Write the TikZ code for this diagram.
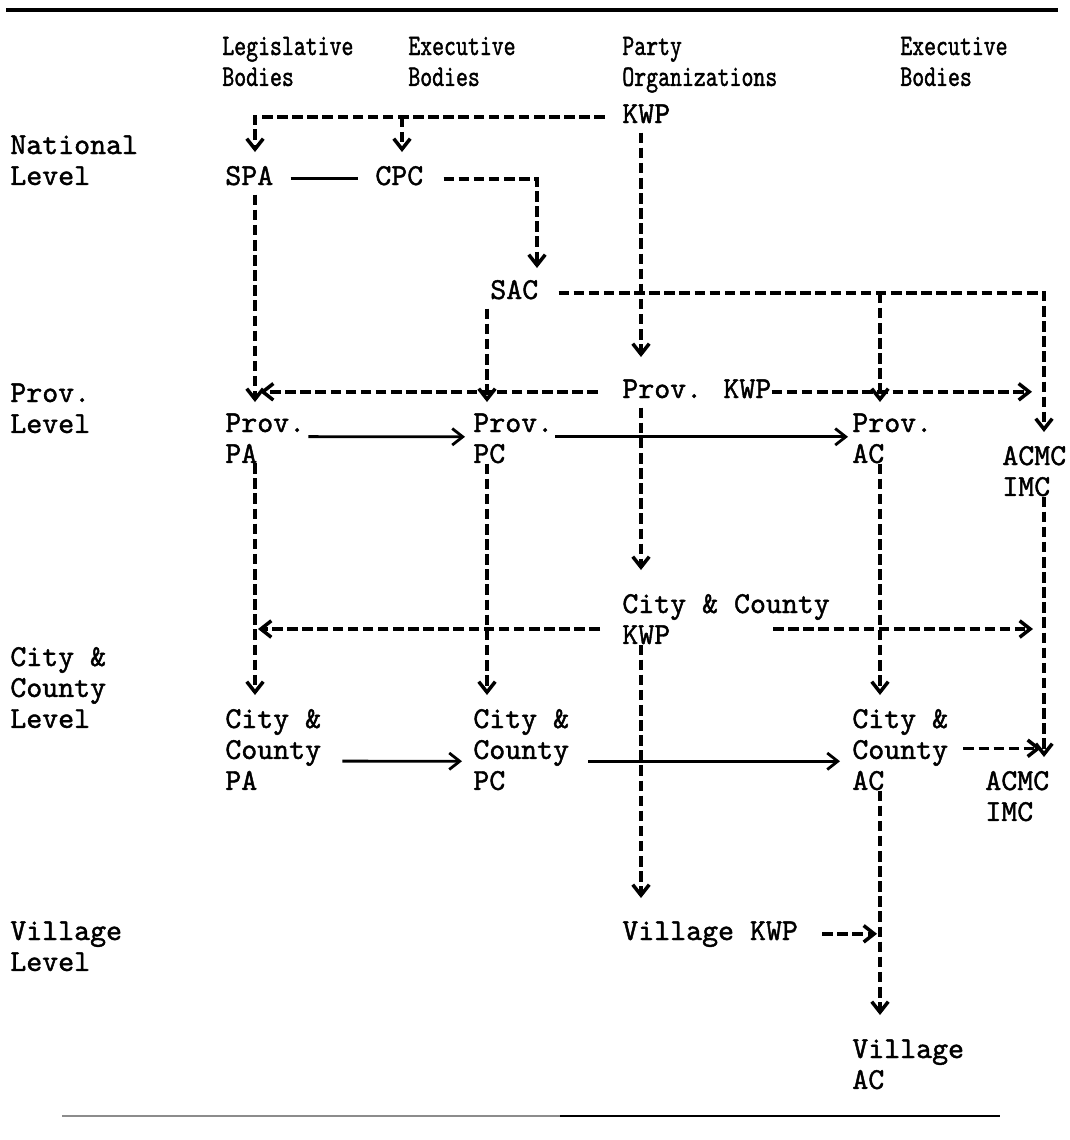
\documentclass[tikz,border=0pt]{standalone}
\usepackage{fontspec}
\newfontfamily\twfont{lmmono10-regular.otf}[FakeBold=1.4]
\newfontfamily\twheadfont{lmmono10-regular.otf}[FakeBold=1.3,FakeStretch=0.76]
\usepackage{tikz}
\usetikzlibrary{arrows.meta,calc}

\begin{document}
\begin{tikzpicture}[x=0.02cm,y=-0.02cm,>={Straight Barb[length=2.1mm,width=3.3mm]},
  every node/.style={font=\fontsize{17.3}{17.6}\selectfont\twfont,inner sep=0pt,anchor=north west,align=left},
  head/.style={font=\fontsize{17}{17.6}\selectfont\twheadfont},
  dline/.style={line width=2pt,dash pattern=on 6pt off 2.6pt},
  sline/.style={line width=1.6pt}]
\useasboundingbox (0,0) rectangle (1069,1140);
\draw[line width=1.8pt] (6,10)--(1058,10);
\draw[line width=1.2pt,black!45] (62,1116)--(560,1116);
\draw[line width=1.2pt] (560,1116)--(1000,1116);
% headings
\node[head] (hleg) at (222,33) {\strut Legislative\\Bodies};
\node[head] (hexe) at (408,33) {\strut Executive\\Bodies};
\node[head] (hpar) at (622,33) {\strut Party\\Organizations};
\node[head] (hexr) at (900,33) {\strut Executive\\Bodies};
\node (lnat) at (10,132) {\strut National\\Level};
\node (lprov) at (10,380) {\strut Prov.\\Level};
\node (lcity) at (10,644) {\strut City \&\\County\\Level};
\node (lvil) at (10,918) {\strut Village\\Level};
% bodies
\node (kwp) at (622,101) {\strut KWP};
\node (spa) at (225,163) {\strut SPA};
\node (cpc) at (375,163) {\strut CPC};
\node (sac) at (490,277) {\strut SAC};
\node (pkwp) at (622,376) {\strut Prov. KWP};
\node (ppa) at (225,410) {\strut Prov.\\PA};
\node (ppc) at (473,410) {\strut Prov.\\PC};
\node (pac) at (852,410) {\strut Prov.\\AC};
\node (pacm) at (1002,443) {\strut ACMC\\IMC};
\node (ckwp) at (622,591) {\strut City \& County\\KWP};
\node (cpa) at (225,706) {\strut City \&\\County\\PA};
\node (ccpc) at (473,706) {\strut City \&\\County\\PC};
\node (cac) at (852,706) {\strut City \&\\County\\AC};
\node (cacm) at (985,768) {\strut ACMC\\IMC};
\node (vkwp) at (622,918) {\strut Village KWP};
\node (vac) at (852,1036) {\strut Village\\AC};
% columns
\coordinate (cL) at (255,0);
\coordinate (cN) at (402,0);
\coordinate (cX) at (537,0);
\coordinate (cE) at (487,0);
\coordinate (cP) at (641,0);
\coordinate (cA) at (880,0);
\coordinate (cM) at (1044,0);
\coordinate (ckwpl) at ([yshift=0.31cm]ckwp.south west);
\coordinate (ckwpr) at ([xshift=-1.14cm,yshift=0.31cm]ckwp.south east);
% national level
\draw[dline,->,shorten <=0.34cm,shorten >=0.22cm] (kwp.west)-|(spa.north-|cL);
\draw[dline,->,shorten >=0.22cm] (kwp.west-|cN)--(cpc.north-|cN);
\draw[sline,shorten <=0.34cm,shorten >=0.34cm] (spa.east)--(cpc.west);
\draw[dline,->,shorten <=0.4cm,shorten >=0.18cm] (cpc.east)-|(sac.north-|cX);
\draw[dline,->,shorten <=0.4cm,shorten >=0.22cm] (sac.east)-|(pacm.north-|cM);
\draw[dline,->,shorten >=0.16cm] (sac.east-|cA)--(pac.north-|cA);
\draw[dline,->,shorten >=0.16cm] (sac.south-|cE)--(ppc.north-|cE);
\draw[dline,->,shorten >=0.16cm] (spa.south-|cL)--(ppa.north-|cL);
\draw[dline,->,shorten >=0.38cm] (kwp.south-|cP)--(pkwp.north-|cP);
% provincial level
\draw[dline,->,shorten <=0.48cm,shorten >=0.1cm] (pkwp.west)--(pkwp.west-|cL);
\draw[dline,->,shorten >=0.24cm] (pkwp.east)--(pkwp.east-|cM);
\draw[sline,->,shorten <=0.06cm,shorten >=0.16cm] (ppa.east)--(ppc.west);
\draw[sline,->,shorten <=0.04cm,shorten >=0.08cm] (ppc.east)--(pac.west);
\draw[dline,->,shorten >=0.22cm] (pacm.south-|cM)--(cacm.north-|cM);
\draw[dline,->,shorten >=0.22cm] (ppa.south-|cL)--(cpa.north-|cL);
\draw[dline,->,shorten >=0.22cm] (ppc.south-|cE)--(ccpc.north-|cE);
\draw[dline,->,shorten >=0.22cm] (pac.south-|cA)--(cac.north-|cA);
\draw[dline,->,shorten >=0.42cm] (pkwp.south-|cP)--(ckwp.north-|cP);
% city and county level
\draw[dline,->,shorten <=0.44cm,shorten >=0.06cm] (ckwpl)--(ckwpl-|cL);
\draw[dline,->,shorten >=0.22cm] (ckwpr)--(ckwpr-|cM);
\draw[dline,->,shorten >=0.4cm] (ckwp.south-|cP)--(vkwp.north-|cP);
\draw[sline,->,shorten <=0.42cm,shorten >=0.22cm] ([yshift=-0.26cm]cpa.east)--([yshift=-0.26cm]ccpc.west);
\draw[sline,->,shorten <=0.38cm,shorten >=0.24cm] ([yshift=-0.26cm]ccpc.east)--([yshift=-0.26cm]cac.west);
\draw[dline,->,shorten <=0.3cm,shorten >=0.06cm] (cac.east)--(cac.east-|cM);
\draw[dline,->,shorten >=0.42cm] (cac.south-|cA)--(vac.north-|cA);
% village level
\draw[dline,->,shorten <=0.48cm,shorten >=0.06cm] (vkwp.east)--(vkwp.east-|cA);
\end{tikzpicture}
\end{document}
